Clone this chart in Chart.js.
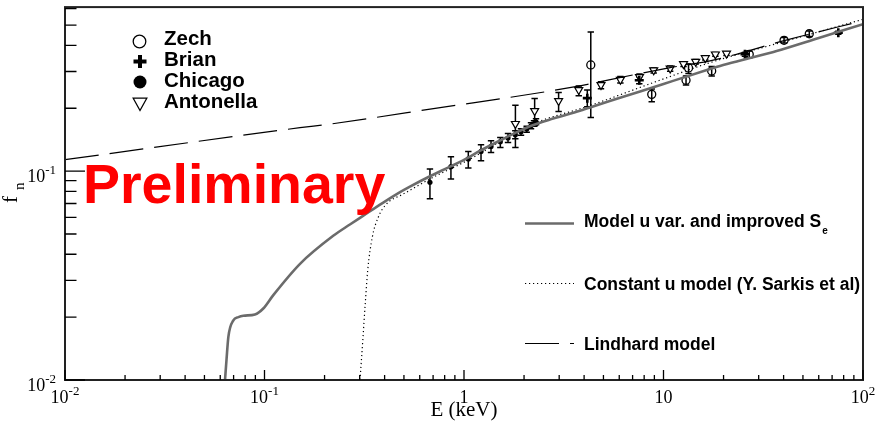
<!DOCTYPE html>
<html>
<head>
<meta charset="utf-8">
<script src="https://cdn.jsdelivr.net/npm/chart.js@4.4.1/dist/chart.umd.min.js"></script>
<style>
  html, body { margin: 0; padding: 0; background: #fff; }
  #wrap { width: 875px; height: 421px; }
</style>
</head>
<body>
<div id="wrap"><canvas id="fnChart" width="875" height="421"></canvas></div>
<script>
// E in keV, f_n (quenching factor)

// Model u var. and improved S_e
const modelE = [0.0634, 0.0645, 0.0659, 0.0698, 0.0740, 0.0783, 0.0895, 0.0986, 0.1107, 0.1507, 0.221, 0.268, 0.313, 0.392, 0.478, 0.530, 0.675, 0.851, 1.051, 1.20, 1.50, 1.80, 2.14, 2.8, 3.81, 4.28, 6.0, 10, 17.1, 19.2, 26, 36.9, 60, 100];
const modelF = [0.0100, 0.0125, 0.0161, 0.0193, 0.0200, 0.0203, 0.0206, 0.0220, 0.0255, 0.0360, 0.0490, 0.0555, 0.0612, 0.0705, 0.0793, 0.0838, 0.0945, 0.1050, 0.1160, 0.1250, 0.1394, 0.1520, 0.1640, 0.1785, 0.1945, 0.2018, 0.2237, 0.2615, 0.3080, 0.3190, 0.3440, 0.3760, 0.4340, 0.5050];

// Constant u model (Y. Sarkis et al)
const constE = [0.3012, 0.3118, 0.3199, 0.3291, 0.3470, 0.3718, 0.4018, 0.4420, 0.478, 0.676, 1.05, 2.14, 4.28, 10, 17.1, 40, 100];
const constF = [0.0100, 0.0161, 0.0232, 0.0335, 0.0483, 0.0602, 0.0684, 0.0737, 0.0763, 0.0918, 0.1130, 0.1660, 0.2060, 0.2764, 0.3306, 0.4165, 0.5330];

// Lindhard model
const lindE = [0.01, 0.1507, 0.213, 0.676, 3.81, 4.28, 10.8, 17.1, 41.6, 100];
const lindF = [0.1135, 0.1614, 0.1680, 0.1980, 0.2560, 0.2620, 0.3130, 0.3370, 0.4250, 0.5250];

// measurements: value with lower / upper end of error bar
const zechE = [4.32, 8.73, 12.97, 13.35, 17.44, 26.9, 40.2, 53.8];
const zechF = [0.3223, 0.2331, 0.2725, 0.3119, 0.3018, 0.3625, 0.4229, 0.4548];
const zechLo = [0.1806, 0.2146, 0.2588, 0.2936, 0.2857, 0.3481, 0.4106, 0.4410];
const zechHi = [0.4634, 0.2476, 0.2857, 0.3258, 0.3171, 0.3760, 0.4363, 0.4686];

const brianE = [4.15, 7.56, 25.6, 75.2];
const brianF = [0.2236, 0.2725, 0.3625, 0.4597];
const brianLo = [0.2032, 0.2620, 0.3550, 0.4520];
const brianHi = [0.2449, 0.2830, 0.3700, 0.4680];

const chicagoE = [0.675, 0.860, 1.051, 1.217, 1.366, 1.521, 1.662, 1.808, 1.931, 2.062, 2.167, 2.243, 2.296];
const chicagoF = [0.0884, 0.1050, 0.1144, 0.1243, 0.1313, 0.1383, 0.1441, 0.1494, 0.1544, 0.1591, 0.1649, 0.1691, 0.1723];
const chicagoLo = [0.0737, 0.0918, 0.1036, 0.1122, 0.1229, 0.1299, 0.1372, 0.1430, 0.1486, 0.1535, 0.1596, 0.1640, 0.1667];
const chicagoHi = [0.1024, 0.1173, 0.1243, 0.1338, 0.1398, 0.1450, 0.1515, 0.1561, 0.1596, 0.1640, 0.1704, 0.1742, 0.1780];

const antoE = [1.81, 2.26, 2.98, 3.76, 4.86, 6.08, 7.58, 8.93, 10.8, 12.6, 14.5, 16.2, 18.2, 20.7];
const antoF = [0.1685, 0.1944, 0.2170, 0.2449, 0.2588, 0.2743, 0.2826, 0.3044, 0.3101, 0.3258, 0.3342, 0.3481, 0.3625, 0.3657];
const antoLo = [0.1299, 0.1649, 0.1930, 0.2293, 0.2480, 0.2640, 0.2720, 0.2950, 0.3010, 0.3170, 0.3260, 0.3400, 0.3550, 0.3580];
const antoHi = [0.2070, 0.2226, 0.2377, 0.2559, 0.2680, 0.2840, 0.2920, 0.3130, 0.3190, 0.3340, 0.3420, 0.3560, 0.3700, 0.3730];

// axes
const xMin = 0.01, xMax = 100;
const yMin = 0.01, yMax = 0.61;
const xTickValues = [0.01, 0.1, 1, 10, 100];
const xTickLabels = [['10', '-2'], ['10', '-1'], ['1', ''], ['10', ''], ['10', '2']];
const yTickValues = [0.01, 0.1];
const yTickLabels = [['10', '-2'], ['10', '-1']];

const SERIF = '"Liberation Serif", "Times New Roman", serif';
const SANS = '"Liberation Sans", Arial, Helvetica, sans-serif';

function pts(xs, ys) {
    return xs.map((x, i) => ({ x: x, y: ys[i] }));
}

// draws e.g. 10^-2 with a raised exponent
function drawPow(ctx, base, exp, x, baseline, align) {
    ctx.font = '18px ' + SERIF;
    const w1 = ctx.measureText(base).width;
    ctx.font = '13px ' + SERIF;
    const w2 = exp ? ctx.measureText(exp).width : 0;
    const total = w1 + w2;
    let start = x - total / 2;
    if (align === 'right') start = x - total;
    ctx.textAlign = 'left';
    ctx.textBaseline = 'alphabetic';
    ctx.font = '18px ' + SERIF;
    ctx.fillText(base, start, baseline);
    if (exp) {
        ctx.font = '13px ' + SERIF;
        ctx.fillText(exp, start + w1, baseline - 8);
    }
}

function drawMarker(ctx, kind, x, y, s) {
    ctx.save();
    ctx.strokeStyle = '#000';
    ctx.fillStyle = '#000';
    if (kind === 'open') {
        ctx.lineWidth = 1.3;
        ctx.beginPath();
        ctx.arc(x, y, s, 0, Math.PI * 2);
        ctx.stroke();
    } else if (kind === 'dot') {
        ctx.beginPath();
        ctx.arc(x, y, s, 0, Math.PI * 2);
        ctx.fill();
    } else if (kind === 'cross') {
        ctx.lineWidth = 4;
        ctx.beginPath();
        ctx.moveTo(x - s, y); ctx.lineTo(x + s, y);
        ctx.moveTo(x, y - s); ctx.lineTo(x, y + s);
        ctx.stroke();
    } else if (kind === 'tri') {
        ctx.lineWidth = 1.3;
        ctx.beginPath();
        ctx.moveTo(x - s, y - s * 0.85);
        ctx.lineTo(x + s, y - s * 0.85);
        ctx.lineTo(x, y + s * 0.95);
        ctx.closePath();
        ctx.stroke();
    }
    ctx.restore();
}

const errorBars = {
    id: 'errorBars',
    beforeDatasetsDraw(chart) {
        const ctx = chart.ctx;
        const y = chart.scales.y;
        const area = chart.chartArea;
        ctx.save();
        ctx.beginPath();
        ctx.rect(area.left, area.top, area.right - area.left, area.bottom - area.top);
        ctx.clip();
        ctx.strokeStyle = '#000';
        ctx.lineWidth = 1.5;
        chart.data.datasets.forEach((ds, di) => {
            if (!ds.errLo) return;
            const meta = chart.getDatasetMeta(di);
            meta.data.forEach((p, i) => {
                const top = y.getPixelForValue(ds.errHi[i]);
                const bot = y.getPixelForValue(ds.errLo[i]);
                ctx.beginPath();
                ctx.moveTo(p.x, top); ctx.lineTo(p.x, bot);
                ctx.moveTo(p.x - 3.2, top); ctx.lineTo(p.x + 3.2, top);
                ctx.moveTo(p.x - 3.2, bot); ctx.lineTo(p.x + 3.2, bot);
                ctx.stroke();
            });
        });
        ctx.restore();
    }
};

const rootFrame = {
    id: 'rootFrame',
    beforeDraw(chart) {
        const ctx = chart.ctx;
        ctx.save();
        ctx.fillStyle = '#fff';
        ctx.fillRect(0, 0, chart.width, chart.height);
        ctx.restore();
    },
    afterDatasetsDraw(chart) {
        const ctx = chart.ctx;
        const xs = chart.scales.x, ys = chart.scales.y;
        const a = chart.chartArea;
        ctx.save();

        // frame
        ctx.strokeStyle = '#222';
        ctx.lineWidth = 2;
        ctx.strokeRect(a.left, a.top, a.right - a.left, a.bottom - a.top);

        // ticks
        ctx.lineWidth = 1.3;
        ctx.strokeStyle = '#000';
        ctx.beginPath();
        for (let d = xMin; d < xMax * 1.01; d *= 10) {
            for (let m = 1; m <= 9; m++) {
                const v = d * m;
                if (v > xMax * 1.001) break;
                const px = xs.getPixelForValue(v);
                ctx.moveTo(px, a.bottom);
                ctx.lineTo(px, a.bottom - (m === 1 ? 10 : 5));
            }
        }
        for (let d = yMin; d < yMax; d *= 10) {
            for (let m = 1; m <= 9; m++) {
                const v = d * m;
                if (v > yMax) break;
                const py = ys.getPixelForValue(v);
                ctx.moveTo(a.left, py);
                ctx.lineTo(a.left + (m === 1 ? 20 : 11.5), py);
            }
        }
        ctx.stroke();

        // tick labels
        ctx.fillStyle = '#000';
        xTickValues.forEach((v, i) => {
            drawPow(ctx, xTickLabels[i][0], xTickLabels[i][1], xs.getPixelForValue(v), 403, 'center');
        });
        yTickValues.forEach((v, i) => {
            drawPow(ctx, yTickLabels[i][0], yTickLabels[i][1], 56, ys.getPixelForValue(v) + 11, 'right');
        });

        // axis titles
        ctx.font = '21px ' + SERIF;
        ctx.textAlign = 'center';
        ctx.fillText('E (keV)', (a.left + a.right) / 2, 416);

        ctx.save();
        ctx.translate(17, 203);
        ctx.rotate(-Math.PI / 2);
        ctx.textAlign = 'left';
        ctx.font = '21px ' + SERIF;
        ctx.fillText('f', 0, 0);
        ctx.font = '15px ' + SERIF;
        ctx.fillText('n', 13, 7);
        ctx.restore();

        // marker legend
        drawMarker(ctx, 'open', 139.5, 41.5, 6.3);
        drawMarker(ctx, 'cross', 140, 61.5, 6.5);
        drawMarker(ctx, 'dot', 140, 82, 6.5);
        drawMarker(ctx, 'tri', 140, 104, 6.8);
        ctx.fillStyle = '#000';
        ctx.textAlign = 'left';
        ctx.font = 'bold 20.5px ' + SANS;
        ctx.fillText('Zech', 164, 44.5);
        ctx.fillText('Brian', 164, 66);
        ctx.fillText('Chicago', 164, 87.3);
        ctx.fillText('Antonella', 164, 107.5);

        // model legend
        ctx.lineWidth = 2.6;
        ctx.strokeStyle = '#6b6b6b';
        ctx.beginPath(); ctx.moveTo(525, 223.5); ctx.lineTo(574, 223.5); ctx.stroke();
        ctx.lineWidth = 1.2;
        ctx.strokeStyle = '#000';
        ctx.setLineDash([1.2, 2.8]);
        ctx.beginPath(); ctx.moveTo(525, 283.5); ctx.lineTo(574, 283.5); ctx.stroke();
        ctx.setLineDash([34, 11]);
        ctx.beginPath(); ctx.moveTo(525, 343.5); ctx.lineTo(574, 343.5); ctx.stroke();
        ctx.setLineDash([]);

        ctx.font = 'bold 17.5px ' + SANS;
        const t1 = 'Model u var. and improved S';
        ctx.fillText(t1, 584, 227);
        const w = ctx.measureText(t1).width;
        ctx.font = 'bold 10px ' + SANS;
        ctx.fillText('e', 584 + w + 1, 234);
        ctx.font = 'bold 17.5px ' + SANS;
        ctx.fillText('Constant u model (Y. Sarkis et al)', 584, 289.5);
        ctx.fillText('Lindhard model', 584, 349.5);

        // watermark
        ctx.fillStyle = '#ff0000';
        ctx.font = 'bold 55.5px ' + SANS;
        ctx.fillText('Preliminary', 83, 203);

        ctx.restore();
    }
};

new Chart(document.getElementById('fnChart'), {
    type: 'scatter',
    data: {
        datasets: [
            {
                label: 'Model u var. and improved Se',
                data: pts(modelE, modelF),
                showLine: true,
                borderColor: '#6b6b6b',
                borderWidth: 2.6,
                pointRadius: 0,
                cubicInterpolationMode: 'monotone'
            },
            {
                label: 'Constant u model (Y. Sarkis et al)',
                data: pts(constE, constF),
                showLine: true,
                borderColor: '#000',
                borderWidth: 1.2,
                borderDash: [1.2, 2.8],
                pointRadius: 0,
                cubicInterpolationMode: 'monotone'
            },
            {
                label: 'Lindhard model',
                data: pts(lindE, lindF),
                showLine: true,
                borderColor: '#000',
                borderWidth: 1.2,
                borderDash: [34, 11],
                pointRadius: 0,
                cubicInterpolationMode: 'monotone'
            },
            {
                label: 'Zech',
                data: pts(zechE, zechF),
                errLo: zechLo, errHi: zechHi,
                pointStyle: 'circle',
                pointRadius: 4,
                borderColor: '#000',
                borderWidth: 1.3,
                backgroundColor: 'rgba(0,0,0,0)'
            },
            {
                label: 'Brian',
                data: pts(brianE, brianF),
                errLo: brianLo, errHi: brianHi,
                pointStyle: 'cross',
                pointRadius: 4.5,
                borderColor: '#000',
                borderWidth: 2.6
            },
            {
                label: 'Chicago',
                data: pts(chicagoE, chicagoF),
                errLo: chicagoLo, errHi: chicagoHi,
                pointStyle: 'circle',
                pointRadius: 2.6,
                borderColor: '#000',
                borderWidth: 0,
                backgroundColor: '#000'
            },
            {
                label: 'Antonella',
                data: pts(antoE, antoF),
                errLo: antoLo, errHi: antoHi,
                pointStyle: 'triangle',
                rotation: 180,
                pointRadius: 4.6,
                borderColor: '#000',
                borderWidth: 1.2,
                backgroundColor: '#fff'
            }
        ]
    },
    options: {
        responsive: false,
        animation: false,
        devicePixelRatio: 1,
        layout: { padding: { left: 65, right: 12, top: 6, bottom: 41 } },
        plugins: {
            legend: { display: false },
            tooltip: { enabled: false }
        },
        scales: {
            x: { type: 'logarithmic', min: xMin, max: xMax, display: false },
            y: { type: 'logarithmic', min: yMin, max: yMax, display: false }
        }
    },
    plugins: [errorBars, rootFrame]
});
</script>
</body>
</html>
